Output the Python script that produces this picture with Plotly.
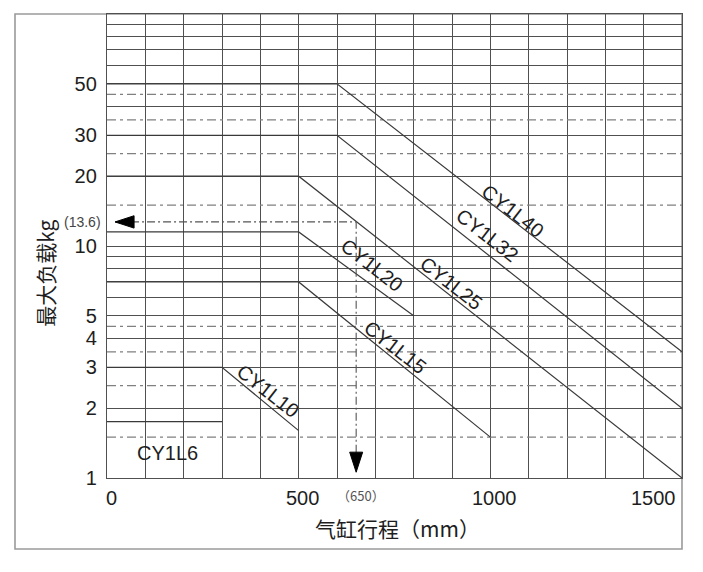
import math
import plotly.graph_objects as go

# ---------------- data ----------------
STROKE_RANGE = [0, 1500]                  # mm
LOAD_RANGE = [1, 100]                     # kg (log axis)
STROKE_GRID = list(range(0, 1501, 100))   # vertical grid every 100 mm
SOLID_LOADS = [1, 2, 3, 4, 5, 6, 7, 8, 9, 10, 20, 30, 40, 50, 60, 70, 80, 90, 100]
LABELED_LOADS = [1, 2, 3, 4, 5, 10, 20, 30, 50]
DASHED_LOADS = [1.5, 2.5, 3.5, 4.5, 15, 25, 35, 45]
X_TICKS = [0, 500, 1000, 1500]

MODELS = ["CY1L6", "CY1L10", "CY1L15", "CY1L20", "CY1L25", "CY1L32", "CY1L40"]
MODEL_STROKE = [
    [0, 300],
    [0, 300, 500],
    [0, 500, 1000],
    [0, 500, 800],
    [0, 500, 1500],
    [0, 600, 1500],
    [0, 600, 1500],
]
MODEL_LOAD = [
    [1.75, 1.75],
    [3, 3, 1.6],
    [7, 7, 1.5],
    [11.5, 11.5, 5],
    [20, 20, 1],
    [30, 30, 2],
    [50, 50, 3.5],
]
# label anchor positions (stroke mm, load kg) and rotation
LABEL_STROKE = [157, 420, 751, 691, 897, 991, 1059]
LABEL_LOAD = [1.28, 2.37, 3.66, 8.3, 6.9, 11.1, 14.2]
LABEL_ANGLE = [0, 38, 38, 38, 38, 38, 38]

# worked example: stroke 650 mm -> load read on CY1L25
EXAMPLE_STROKE = 650
EXAMPLE_LOAD = 12.7
EXAMPLE_LOAD_TEXT = "(13.6)"
EXAMPLE_STROKE_TEXT = "（650）"
ARROW_LEFT_STROKE = 21
ARROW_DOWN_LOAD = 1.06

X_TITLE = "气缸行程（mm）"
Y_TITLE = "最大负载kg"

FONT = "Liberation Sans, Arial, sans-serif"
CJK = "Noto Sans CJK SC, sans-serif"
GRID = "#505050"
TXT = "#1e1e1e"

fig = go.Figure()

# dash-dot guide lines at half values
for v in DASHED_LOADS:
    fig.add_trace(go.Scatter(
        x=STROKE_RANGE, y=[v, v], mode="lines",
        line=dict(color="#808080", width=1.2, dash="9px,4px,3px,4px"),
        hoverinfo="skip", showlegend=False))

# model curves
for name, xs, ys in zip(MODELS, MODEL_STROKE, MODEL_LOAD):
    fig.add_trace(go.Scatter(
        x=xs, y=ys, mode="lines", name=name,
        line=dict(color="#3a3a3a", width=1.2),
        showlegend=False))

# worked example lines
fig.add_trace(go.Scatter(
    x=[ARROW_LEFT_STROKE, EXAMPLE_STROKE, EXAMPLE_STROKE],
    y=[EXAMPLE_LOAD, EXAMPLE_LOAD, ARROW_DOWN_LOAD],
    mode="lines",
    line=dict(color="#555555", width=1.1, dash="8px,3px,2px,3px"),
    hoverinfo="skip", showlegend=False))
fig.add_trace(go.Scatter(
    x=[ARROW_LEFT_STROKE, EXAMPLE_STROKE],
    y=[EXAMPLE_LOAD, ARROW_DOWN_LOAD],
    mode="markers",
    marker=dict(symbol="arrow", size=[20, 21], angle=[270, 180],
                color="#000000", opacity=1,
                line=dict(width=1, color="#000000")),
    hoverinfo="skip", showlegend=False))

annotations = []
for name, lx, ly, ang in zip(MODELS, LABEL_STROKE, LABEL_LOAD, LABEL_ANGLE):
    annotations.append(dict(
        x=lx, y=math.log10(ly), xref="x", yref="y", text=name,
        showarrow=False, textangle=ang, xanchor="center", yanchor="middle",
        font=dict(family=FONT, size=20, color=TXT)))

# x tick labels
for v in X_TICKS:
    last = v == X_TICKS[-1]
    annotations.append(dict(
        x=v, y=0, xref="x", yref="paper", text=str(v), showarrow=False,
        xanchor="right" if last else "center", yanchor="middle",
        xshift=-4 if last else 4, yshift=-20,
        font=dict(family=FONT, size=20, color=TXT)))

annotations += [
    dict(x=EXAMPLE_STROKE, y=0, xref="x", yref="paper", text=EXAMPLE_STROKE_TEXT,
         showarrow=False, xanchor="center", yanchor="middle", xshift=5, yshift=-17,
         font=dict(family=CJK, size=13, color="#555555")),
    dict(x=0, y=math.log10(EXAMPLE_LOAD), xref="paper", yref="y",
         text=EXAMPLE_LOAD_TEXT, showarrow=False, xanchor="right", yanchor="middle",
         xshift=-4, font=dict(family=FONT, size=14, color="#444444")),
    dict(x=0.505, y=0, xref="paper", yref="paper", text=X_TITLE, showarrow=False,
         xanchor="center", yanchor="middle", yshift=-50,
         font=dict(family=CJK, size=21, color=TXT)),
    dict(x=0, y=0.44, xref="paper", yref="paper", text=Y_TITLE, showarrow=False,
         xanchor="center", yanchor="middle", xshift=-62, textangle=-90,
         font=dict(family=CJK, size=21, color=TXT)),
]

fig.update_layout(
    width=703, height=572,
    margin=dict(l=107, r=21, t=14, b=94),
    paper_bgcolor="white", plot_bgcolor="white",
    showlegend=False,
    annotations=annotations,
    shapes=[dict(type="rect", xref="paper", yref="paper",
                 x0=-0.16, x1=1.0, y0=-0.153, y1=1.0,
                 line=dict(color="#9a9a9a", width=1.6), layer="below")],
    xaxis=dict(
        range=STROKE_RANGE, tickvals=STROKE_GRID, showticklabels=False,
        showgrid=True, gridcolor=GRID, gridwidth=1.3, zeroline=False,
        showline=True, linecolor=GRID, linewidth=1.3, mirror=True, ticks=""),
    yaxis=dict(
        type="log", range=[math.log10(LOAD_RANGE[0]), math.log10(LOAD_RANGE[1])],
        tickvals=SOLID_LOADS,
        ticktext=[str(v) if v in LABELED_LOADS else "" for v in SOLID_LOADS],
        showgrid=True, gridcolor=GRID, gridwidth=1.3, zeroline=False,
        showline=True, linecolor=GRID, linewidth=1.3, mirror=True, ticks="",
        ticklabelstandoff=5,
        tickfont=dict(family=FONT, size=20, color=TXT)),
)

fig.write_html("out.html",
               config={"displayModeBar": False},
               post_script="document.body.style.margin='0';"
                           "document.body.style.overflow='hidden';")
